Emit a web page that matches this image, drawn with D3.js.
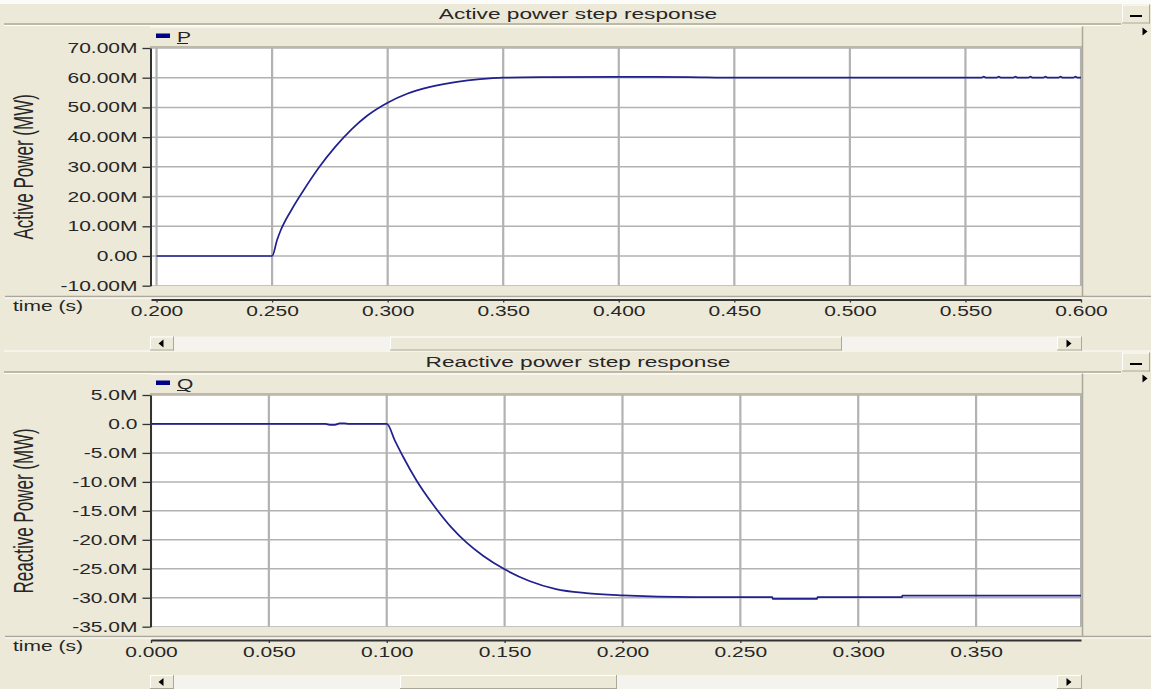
<!DOCTYPE html>
<html>
<head>
<meta charset="utf-8">
<script src="https://cdn.jsdelivr.net/npm/d3@7/dist/d3.min.js"></script>
<style>
body { margin: 0; background: #ece9d8; }
svg { display: block; font-family: "Liberation Sans", Arial, sans-serif; }
</style>
</head>
<body>
<svg width="1151" height="689"></svg>
<script>
// active power P (values in M), step at t = 0.25 s
var pTime = [0.200, 0.250, 0.2522, 0.2536, 0.2586, 0.2637, 0.2701, 0.2774, 0.2846, 0.2911,
    0.300, 0.3084, 0.3184, 0.330, 0.340, 0.350, 0.370, 0.400, 0.430, 0.450,
    0.5570, 0.5579, 0.5590, 0.5635, 0.5644, 0.5655, 0.5707, 0.5716, 0.5727,
    0.5772, 0.5781, 0.5792, 0.5837, 0.5846, 0.5857, 0.5902, 0.5911, 0.5922,
    0.5967, 0.5976, 0.5987, 0.600];
var pValue = [0, 0, 5.5, 8.4, 15.8, 22.2, 29.6, 36.8, 42.8, 47.2,
    51.6, 54.6, 56.9, 58.6, 59.5, 60.0, 60.2, 60.3, 60.2, 60.0,
    60.0, 60.35, 60.0, 60.0, 60.35, 60.0, 60.0, 60.35, 60.0,
    60.0, 60.35, 60.0, 60.0, 60.35, 60.0, 60.0, 60.35, 60.0,
    60.0, 60.35, 60.0, 60.0];
var pTicksX = [0.200, 0.250, 0.300, 0.350, 0.400, 0.450, 0.500, 0.550, 0.600];
var pTicksY = [-10, 0, 10, 20, 30, 40, 50, 60, 70];
var pDomainX = [0.1976, 0.6];
var pDomainY = [-10, 70];

// reactive power Q (values in M), step at t = 0.1 s
var qTime = [0.000, 0.074, 0.0758, 0.078, 0.080, 0.082, 0.084, 0.100, 0.1035, 0.107,
    0.1127, 0.1198, 0.1275, 0.1339, 0.141, 0.150, 0.1605, 0.1718, 0.1845, 0.200,
    0.230, 0.2636, 0.2637, 0.2826, 0.2827, 0.3186, 0.3187, 0.3945];
var qValue = [0, 0, -0.15, -0.15, 0.1, 0.1, 0, 0, -2.9, -5.7,
    -9.8, -14.0, -17.9, -20.5, -22.8, -25.1, -27.1, -28.5, -29.2, -29.6,
    -29.9, -29.9, -30.2, -30.2, -29.9, -29.9, -29.65, -29.65];
var qTicksX = [0.000, 0.050, 0.100, 0.150, 0.200, 0.250, 0.300, 0.350];
var qTicksY = [-35, -30, -25, -20, -15, -10, -5, 0, 5];
var qDomainX = [0, 0.3945];
var qDomainY = [-35, 5];

var FACE = '#ece9d8', SHADOW = '#aca899', TRACK = '#f4f3ee';
var LINE = '#20208f', GRID = '#b2b2b2', INK = '#262626';
var SX = 1.5;   // the screenshot is stretched sideways

var svg = d3.select('svg');
svg.append('rect').attr('width', 1151).attr('height', 689).style('fill', FACE);
svg.append('rect').attr('width', 1151).attr('height', 4).style('fill', '#fbfbf9');

function txt(g, x, y, str, anchor, sx, size) {
    return g.append('text')
        .attr('transform', 'translate(' + x + ',' + y + ') scale(' + sx + ',1)')
        .attr('text-anchor', anchor)
        .style('font-size', size + 'px')
        .style('fill', INK)
        .text(str);
}

function hline(g, x0, x1, y, color, w) {
    g.append('line').attr('x1', x0).attr('x2', x1).attr('y1', y).attr('y2', y)
        .style('stroke', color).style('stroke-width', w || 1);
}
function vline(g, x, y0, y1, color, w) {
    g.append('line').attr('x1', x).attr('x2', x).attr('y1', y0).attr('y2', y1)
        .style('stroke', color).style('stroke-width', w || 1);
}

function button(g, x0, y0, x1, y1) {
    g.append('rect').attr('x', x0).attr('y', y0).attr('width', x1 - x0).attr('height', y1 - y0)
        .style('fill', FACE);
    hline(g, x0, x1, y0 + 0.5, '#fff');
    vline(g, x0 + 0.5, y0, y1, '#fff');
    hline(g, x0, x1, y1 - 0.5, SHADOW);
    vline(g, x1 - 0.5, y0, y1, SHADOW);
}

// small black arrow head, dir > 0 points right
function tri(g, cx, cy, dir) {
    var w = 2.5 * dir, h = 4;
    g.append('path')
        .attr('d', 'M' + (cx - w) + ',' + (cy - h) + 'L' + (cx + w) + ',' + cy + 'L' + (cx - w) + ',' + (cy + h) + 'Z')
        .style('fill', '#000');
}

function drawPanel(p, idx) {
    var g = svg.append('g');
    var L = 151, R = 1081;

    // title bar
    hline(g, 4, 1121, p.top + 20, SHADOW, 1.5);
    hline(g, 4, 1121, p.top + 21.5, '#fff');
    txt(g, 578, p.top + 15, p.title, 'middle', 1.62, 14);
    button(g, 1122, p.top + 0.5, 1150, p.top + 19.5);
    hline(g, 1130, 1142, p.top + 12, '#000', 2);
    tri(g, 1145, p.legendTop + 5, 1);

    // legend bar
    g.append('rect').attr('x', 150).attr('y', p.legendTop).attr('width', R + 1 - 150)
        .attr('height', p.plotTop - p.legendTop).style('fill', FACE);
    hline(g, 150, R + 1, p.legendTop + 0.5, '#fff');
    hline(g, 150, R + 1, p.plotTop - 1, SHADOW, 1.5);
    g.append('rect').attr('x', 156).attr('y', p.legendTop + 7).attr('width', 14).attr('height', 4.5)
        .style('fill', '#00008b');
    txt(g, 177, p.legendTop + 15, p.legend, 'start', SX, 14);
    hline(g, 177, 188, p.legendTop + 17, INK);
    vline(g, R + 1.5, p.legendTop, p.sepY, SHADOW, 1.5);

    // plot
    var x = d3.scaleLinear().domain(p.domainX).range([L, R]);
    var y = d3.scaleLinear().domain(p.domainY).range([p.plotBottom, p.plotTop]);

    g.append('rect').attr('x', L).attr('y', p.plotTop).attr('width', R - L)
        .attr('height', p.plotBottom - p.plotTop).style('fill', '#fff');

    var clipId = 'clip' + idx;
    g.append('clipPath').attr('id', clipId).append('rect')
        .attr('x', L).attr('y', p.plotTop).attr('width', R - L + 1).attr('height', p.plotBottom - p.plotTop);

    var grid = g.append('g').attr('clip-path', 'url(#' + clipId + ')');
    grid.selectAll('.gy').data(p.ticksY).enter().append('line')
        .attr('x1', L).attr('x2', R)
        .attr('y1', function(d) {return y(d);}).attr('y2', function(d) {return y(d);})
        .style('stroke', GRID).style('stroke-width', 1.5);
    grid.selectAll('.gx').data(p.ticksX).enter().append('line')
        .attr('x1', function(d) {return x(d);}).attr('x2', function(d) {return x(d);})
        .attr('y1', p.plotTop).attr('y2', p.plotBottom)
        .style('stroke', GRID).style('stroke-width', 2.2);
    vline(g, R, p.plotTop, p.plotBottom, GRID, 2);

    var line = d3.line()
        .curve(d3.curveMonotoneX)
        .x(function(d) {return x(d[0]);})
        .y(function(d) {return y(d[1]);});
    g.append('path')
        .datum(d3.zip(p.time, p.value))
        .attr('clip-path', 'url(#' + clipId + ')')
        .attr('d', line)
        .style('fill', 'none')
        .style('stroke', LINE)
        .style('stroke-width', 1.7);

    // y axis
    var ya = g.append('g').attr('transform', 'translate(' + (L - 0.5) + ',0)')
        .call(d3.axisLeft(y).tickValues(p.ticksY).tickFormat(p.fmtY).tickSize(8).tickSizeOuter(0));
    ya.select('.domain').style('stroke', '#333').style('stroke-width', 2);
    ya.selectAll('.tick line').style('stroke', '#333').style('stroke-width', 1.3);
    ya.selectAll('.tick text')
        .attr('x', -13 / SX).attr('transform', 'scale(' + SX + ',1)')
        .style('font-size', '14px').style('fill', INK).style('font-family', null);

    g.append('text')
        .attr('transform', 'translate(33,' + ((p.plotTop + p.plotBottom) / 2) + ') scale(1.6,1) rotate(-90)')
        .attr('text-anchor', 'middle')
        .style('font-size', '17px')
        .style('fill', INK)
        .text(p.yLabel);

    // x axis
    hline(g, 5, 1151, p.sepY, SHADOW, 1.5);
    hline(g, 5, 1151, p.sepY + 1.5, '#fff');
    var xa = g.append('g').attr('transform', 'translate(0,' + p.axisY + ')')
        .call(d3.axisBottom(x).tickValues(p.ticksX).tickFormat(d3.format('.3f'))
            .tickSize(3).tickSizeOuter(0).tickPadding(4));
    xa.select('.domain').style('stroke', '#333').style('stroke-width', 2);
    xa.selectAll('.tick line').style('stroke', '#333').style('stroke-width', 1.3);
    xa.selectAll('.tick text')
        .attr('transform', 'scale(' + SX + ',1)')
        .style('font-size', '14px').style('fill', INK).style('font-family', null);
    txt(g, 13, p.axisY + 11, 'time (s)', 'start', SX, 14);

    // scrollbar
    var s0 = p.scrollY, s1 = p.scrollY + 14;
    g.append('rect').attr('x', 150).attr('y', s0).attr('width', R + 1 - 150).attr('height', s1 - s0)
        .style('fill', TRACK);
    button(g, 150, s0, 174, s1);
    tri(g, 161, (s0 + s1) / 2, -1);
    button(g, p.thumb[0], s0, p.thumb[1], s1);
    button(g, 1057, s0, R + 1, s1);
    tri(g, 1069, (s0 + s1) / 2, 1);
}

var panels = [
    {
        title: 'Active power step response', yLabel: 'Active Power (MW)', legend: 'P',
        time: pTime, value: pValue, ticksX: pTicksX, ticksY: pTicksY,
        domainX: pDomainX, domainY: pDomainY,
        fmtY: function(d) {return d === 0 ? '0.00' : d.toFixed(2) + 'M';},
        top: 4, legendTop: 26.5, plotTop: 48, plotBottom: 285.7,
        sepY: 296.5, axisY: 299.5, scrollY: 336.5, thumb: [390, 842]
    },
    {
        title: 'Reactive power step response', yLabel: 'Reactive Power (MW)', legend: 'Q',
        time: qTime, value: qValue, ticksX: qTicksX, ticksY: qTicksY,
        domainX: qDomainX, domainY: qDomainY,
        fmtY: function(d) {return d === 0 ? '0.0' : d.toFixed(1) + 'M';},
        top: 352, legendTop: 373.5, plotTop: 395, plotBottom: 626.7,
        sepY: 636.5, axisY: 640, scrollY: 675, thumb: [400, 617]
    }
];

hline(svg, 4, 1151, 351, '#fff');
panels.forEach(drawPanel);
</script>
</body>
</html>
